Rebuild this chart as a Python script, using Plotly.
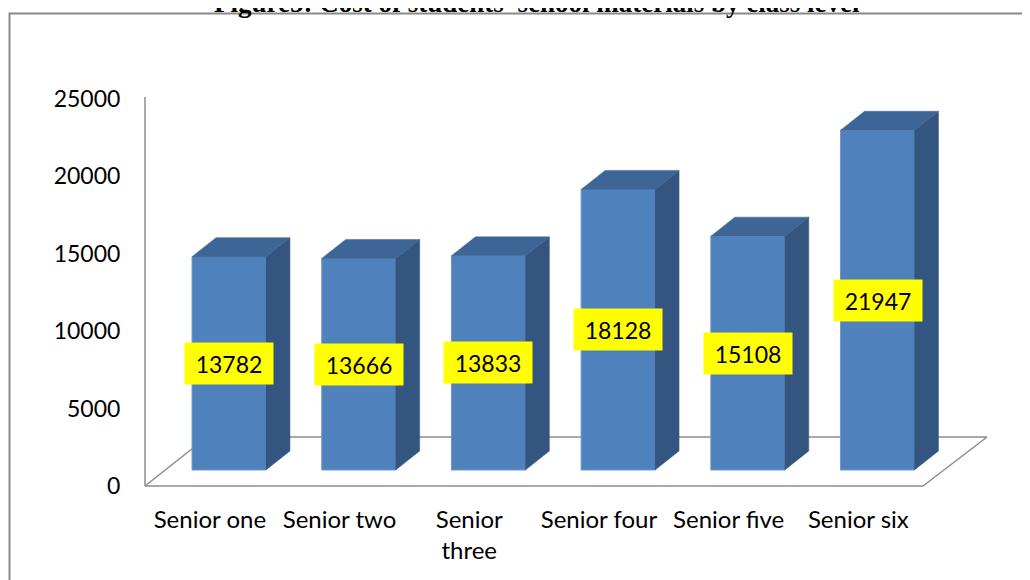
import plotly.graph_objects as go

# Data
categories = ["Senior one", "Senior two", "Senior<br>three", "Senior four", "Senior five", "Senior six"]
costs = [13782, 13666, 13833, 18128, 15108, 21947]
y_ticks = [0, 5000, 10000, 15000, 20000, 25000]

# Look config
FRONT = "#4F81BD"
SIDE = "#34557F"
TOP = "#3D6596"
GRID = "#8C8C8C"
FONT = "Lato"

W, H = 1030, 580
OFF = 8  # page body margin
L, R, T, B = 137, 53, 91, 102
plot_w = W - L - R
plot_h = H - T - B

bar_w = 0.57
dx = 0.185     # depth offset in category units
dy = 1227      # depth offset in value units

n = len(costs)
fig = go.Figure()

# front faces
fig.add_trace(go.Bar(
    x=list(range(n)), y=costs, width=bar_w,
    marker=dict(color=FRONT, line=dict(color="#6E97C8", width=1)),
    hoverinfo="y", showlegend=False, xaxis="x", yaxis="y",
))

# side and top faces from the data
for i, v in enumerate(costs):
    xl, xr = i - bar_w / 2, i + bar_w / 2
    fig.add_trace(go.Scatter(
        x=[xr, xr + dx, xr + dx, xr, xr], y=[0, dy, v + dy, v, 0],
        fill="toself", fillcolor=SIDE, mode="lines", line=dict(color=SIDE, width=0.5),
        hoverinfo="skip", showlegend=False,
    ))
    fig.add_trace(go.Scatter(
        x=[xl, xl + dx, xr + dx, xr, xl], y=[v, v + dy, v + dy, v, v],
        fill="toself", fillcolor=TOP, mode="lines", line=dict(color=TOP, width=0.5),
        hoverinfo="skip", showlegend=False,
    ))
    fig.add_annotation(
        x=i, y=v / 2, xref="x", yref="y", text=str(v), showarrow=False,
        width=78, height=31, borderpad=5, bgcolor="#FFFF00",
        font=dict(family=FONT, size=23, color="black"),
    )

# dummy trace on the label axes so they render
fig.add_trace(go.Scatter(x=[0], y=[0], xaxis="x2", yaxis="y2", mode="markers",
                         marker=dict(opacity=0), hoverinfo="skip", showlegend=False))

px_unit = 129.7
bar0_px = 229 - OFF
x_lo = -(bar0_px - L) / px_unit
x_hi = x_lo + plot_w / px_unit
y_per_px = 25000 / plot_h
y_lo = -16 * y_per_px


def px(xp):
    return (xp - OFF - L) / plot_w


def py(yp):
    return (H - B - (yp - OFF)) / plot_h


shapes = []
# floor and wall lines
for (x0, y0, x1, y1) in [(145, 486, 923, 486), (923, 486, 987, 437), (987, 437, 207, 437),
                         (207, 437, 145, 486), (145, 486, 145, 97)]:
    shapes.append(dict(type="line", xref="paper", yref="paper",
                       x0=px(x0), y0=py(y0), x1=px(x1), y1=py(y1),
                       line=dict(color=GRID, width=1.5), layer="below"))
# outer frame
shapes.append(dict(type="rect", xref="paper", yref="paper",
                   x0=px(9.5), y0=py(600), x1=px(1050), y1=py(13.5),
                   line=dict(color="#8A8A8A", width=2), layer="below"))

fig.update_layout(
    width=W, height=H,
    margin=dict(l=L, r=R, t=T, b=B),
    paper_bgcolor="white", plot_bgcolor="rgba(0,0,0,0)",
    shapes=shapes,
    xaxis=dict(range=[x_lo, x_hi], showticklabels=False, showgrid=False, zeroline=False,
               showline=False),
    yaxis=dict(range=[y_lo, y_lo + 25000], showticklabels=False, showgrid=False,
               zeroline=False, showline=False),
    xaxis2=dict(overlaying="x", range=[-0.5, -0.5 + plot_w / px_unit],
                tickmode="array", tickvals=list(range(n)), ticktext=categories,
                tickfont=dict(family=FONT, size=24, color="black"),
                showgrid=False, zeroline=False, showline=False, ticks="outside",
                ticklen=12, tickcolor="rgba(0,0,0,0)"),
    yaxis2=dict(overlaying="y", range=[0, 25000], tickmode="array", tickvals=y_ticks,
                ticktext=[str(t) for t in y_ticks],
                tickfont=dict(family=FONT, size=23, color="black"),
                showgrid=False, zeroline=False, showline=False, ticks="outside",
                ticklen=19, tickcolor="rgba(0,0,0,0)"),
    annotations=list(fig.layout.annotations) + [dict(
        text="<b>Figure5: Cost of students’ school materials by class level</b>",
        xref="paper", yref="paper", x=px(537), y=py(2.5), xanchor="center", yanchor="middle",
        showarrow=False, font=dict(family="Liberation Serif", size=27, color="black"),
    )],
)

fig.write_html("out.html")
